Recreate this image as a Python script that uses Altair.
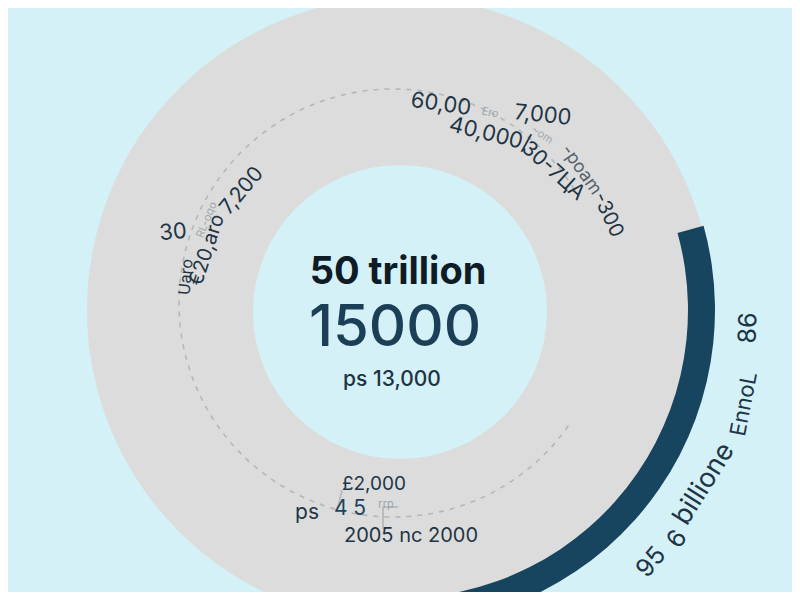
import math
import altair as alt
import pandas as pd

# ---------------- values ----------------
# ring: full grey disc + highlighted share (degrees clockwise from 12 o'clock)
ring_names = ["Total", "Highlighted share"]
ring_start_deg = [0.0, 74.5]
ring_end_deg = [360.0, 189.0]

# dashed reference ring (visible part, degrees clockwise from 12 o'clock)
dash_start_deg = 125.0
dash_end_deg = 420.0

center_texts = ["50 trillion", "15000", "ps 13,000"]

label_texts = ["60,00", "Ero", "7,000", "~om", "40,000/", "30-7ЦA", "-poam", "-300",
               "30", "Uaro", "RL-oqo", "€20,aro", "7,200",
               "£2,000", "ps", "4 5", "rrp", "2005 nc 2000",
               "95", "6", "billione", "EnnoL", "86"]

# ---------------- layout / style (reference pixel coordinates) ----------------
W, H = 784, 584
BG = "#d3f1f6"
GREY = "#dcdcdc"
DARK = "#17445f"
TXT = "#1f3546"
FAINT = "#9ea7ae"

ring_center = (400, 310)
ring_radii = [(0, 313), (288, 315)]
ring_colors = [GREY, DARK]

hole_center = (400, 312)
hole_radius = 147

dash_center = (393, 303)
dash_radius = 214

# x, y, angle, size, colour
label_layout = [
    (441, 104, 8, 22, TXT), (490, 113, 12, 11, FAINT), (543, 115, 6, 22, TXT),
    (542, 135, 35, 11, FAINT), (490, 134, 14, 22, TXT), (553, 171, 42, 21, TXT),
    (581, 170, 55, 18, "#55636e"), (608, 215, 65, 20, TXT),
    (173, 232, 355, 22, TXT), (186, 277, 275, 16, TXT), (207, 220, 292, 11, FAINT),
    (207, 250, 288, 20, TXT), (242, 191, 310, 21, TXT),
    (374, 484, 0, 19, TXT), (307, 513, 0, 21, TXT), (350, 509, 0, 21, "#1d4560"),
    (386, 505, 0, 11, FAINT), (411, 536, 0, 20, TXT),
    (651, 562, 310, 25, TXT), (677, 539, 303, 25, TXT), (704, 484, 302, 27, TXT),
    (744, 404, 281, 22, TXT), (748, 328, 272, 25, TXT),
]

center_layout = [(398, 273, 38, "#0f1c26", "bold"),
                 (395, 329, 58, "#1b3f56", "normal"),
                 (392, 380, 21, "#1f3344", "normal")]

connector_segments = [(342, 490, 337, 512), (383, 507, 398, 507), (383, 507, 383, 529)]

FONT = "Inter"

xs = alt.Scale(domain=[8, 8 + W], range=[0, W], nice=False, zero=False)
ys = alt.Scale(domain=[8, 8 + H], range=[0, H], nice=False, zero=False)


def X(f):
    return alt.X(f, type="quantitative", scale=xs, axis=None)


def Y(f):
    return alt.Y(f, type="quantitative", scale=ys, axis=None)


# ---------------- tables ----------------
rad = math.pi / 180
ring_df = pd.DataFrame({
    "name": ring_names,
    "cx": [ring_center[0]] * 2, "cy": [ring_center[1]] * 2,
    "t0": [a * rad for a in ring_start_deg], "t1": [a * rad for a in ring_end_deg],
    "r0": [r[0] for r in ring_radii], "r1": [r[1] for r in ring_radii],
    "fill": ring_colors,
})
hole_df = pd.DataFrame({"cx": [hole_center[0]], "cy": [hole_center[1]],
                        "t0": [0.0], "t1": [2 * math.pi], "r0": [0], "r1": [hole_radius],
                        "fill": [BG]})


def unit(a):
    return math.sin(a * rad), -math.cos(a * rad)


sx, sy = unit(dash_start_deg)
ex, ey = unit(dash_end_deg)
large = 1 if (dash_end_deg - dash_start_deg) > 180 else 0
dash_path = f"M {sx:.4f} {sy:.4f} A 1 1 0 {large} 1 {ex:.4f} {ey:.4f}"
dash_df = pd.DataFrame({"cx": [dash_center[0]], "cy": [dash_center[1]],
                        "size": [(2 * dash_radius) ** 2]})

label_df = pd.DataFrame({
    "text": label_texts,
    "x": [l[0] for l in label_layout], "y": [l[1] for l in label_layout],
    "angle": [l[2] for l in label_layout], "size": [l[3] for l in label_layout],
    "color": [l[4] for l in label_layout],
})
center_df = pd.DataFrame({
    "text": center_texts,
    "x": [c[0] for c in center_layout], "y": [c[1] for c in center_layout],
    "size": [c[2] for c in center_layout], "color": [c[3] for c in center_layout],
    "weight": [c[4] for c in center_layout],
})
conn_df = pd.DataFrame({
    "x": [c[0] for c in connector_segments], "y": [c[1] for c in connector_segments],
    "x2": [c[2] for c in connector_segments], "y2": [c[3] for c in connector_segments],
})


def arc_layer(df):
    return alt.Chart(df).mark_arc(stroke=None).encode(
        x=X("cx"), y=Y("cy"),
        theta=alt.Theta("t0:Q", scale=None, stack=None),
        theta2=alt.Theta2("t1:Q"),
        radius=alt.Radius("r1:Q", scale=None),
        radius2=alt.Radius2("r0:Q"),
        color=alt.Color("fill:N", scale=None),
    )


disc = arc_layer(ring_df[ring_df["name"] == "Total"])
hole = arc_layer(hole_df)
share = arc_layer(ring_df[ring_df["name"] == "Highlighted share"])

dashed = alt.Chart(dash_df).mark_point(
    filled=False, shape=dash_path, stroke="#b4b7b9", strokeWidth=1.6,
    strokeDash=[5, 6], opacity=1,
).encode(x=X("cx"), y=Y("cy"), size=alt.Size("size:Q", scale=None))

connectors = alt.Chart(conn_df).mark_rule(color="#b9bdbf", strokeWidth=2).encode(
    x=X("x"), y=Y("y"), x2="x2:Q", y2="y2:Q")

labels = alt.Chart(label_df).mark_text(font=FONT, align="center", baseline="middle").encode(
    x=X("x"), y=Y("y"), text="text:N",
    angle=alt.Angle("angle:Q", scale=None),
    size=alt.Size("size:Q", scale=None),
    color=alt.Color("color:N", scale=None),
)

center_bold = alt.Chart(center_df[center_df["weight"] == "bold"]).mark_text(
    font=FONT, fontWeight="bold", align="center", baseline="middle").encode(
    x=X("x"), y=Y("y"), text="text:N",
    size=alt.Size("size:Q", scale=None), color=alt.Color("color:N", scale=None))

center_norm = alt.Chart(center_df[center_df["weight"] != "bold"]).mark_text(
    font=FONT, fontWeight=500, align="center", baseline="middle").encode(
    x=X("x"), y=Y("y"), text="text:N",
    size=alt.Size("size:Q", scale=None), color=alt.Color("color:N", scale=None))

chart = alt.layer(disc, hole, dashed, share, connectors, labels, center_bold, center_norm).properties(
    width=W, height=H, padding=0, background=BG,
    autosize=alt.AutoSizeParams(type="none"),
).configure_view(stroke=None)

chart.save("out.html", embed_options={"renderer": "svg", "actions": False})
